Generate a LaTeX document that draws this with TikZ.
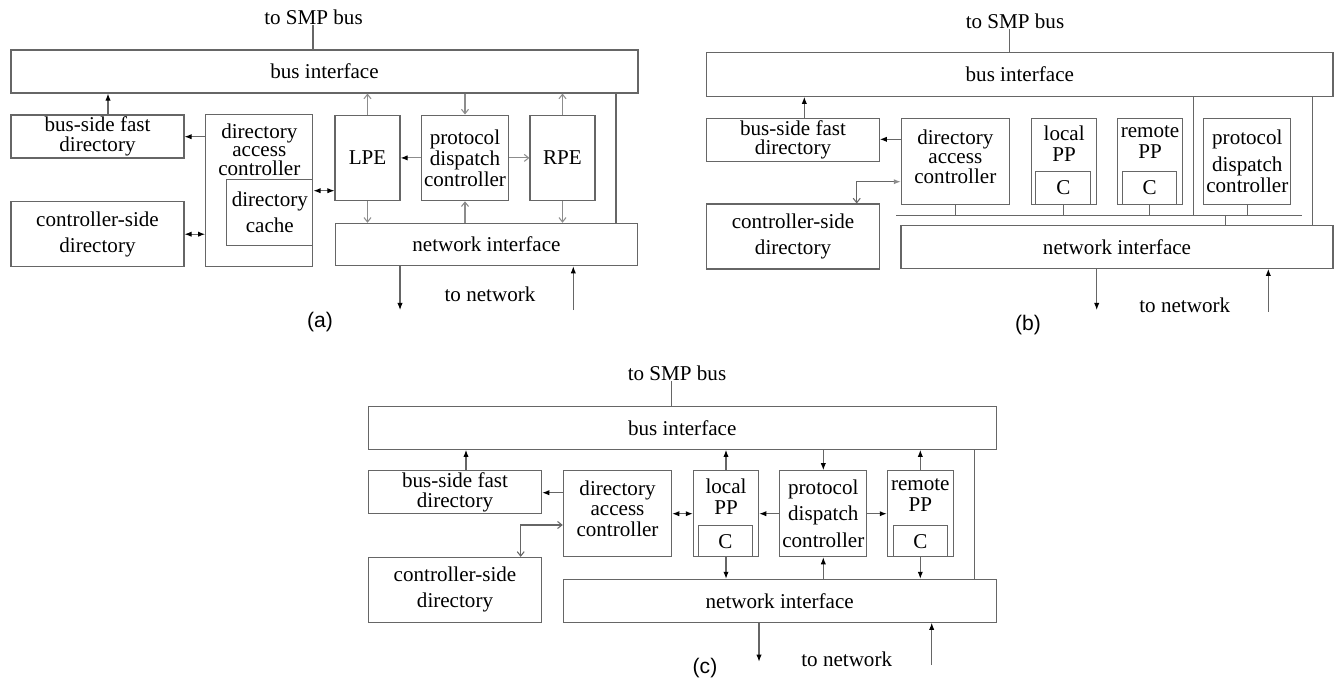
\documentclass[tikz,border=0pt]{standalone}
\usepackage{fontspec}
\setmainfont{Liberation Serif}
\newfontfamily\capfont{Liberation Sans}
\usetikzlibrary{arrows.meta,positioning,calc}
\colorlet{lgray}{black!60}

\begin{document}
\begin{tikzpicture}
[x=0.02cm,y=-0.02cm,
font=\fontsize{12}{12}\selectfont,
%
box/.style 2 args={shape=rectangle,draw=lgray,line width=.6pt,inner sep=0pt,
  align=center,minimum width=#1*0.02cm,minimum height=#2*0.02cm},
txt/.style={inner sep=0pt,align=center},
lab/.style={inner sep=0pt,font=\capfont\fontsize{12}{12}\selectfont},
%
wire/.style={draw=lgray,line width=.6pt},
fedge/.style={wire,-{Latex[length=4pt,width=3pt,black]}},
dfedge/.style={wire,{Latex[length=4pt,width=3pt,black]}-{Latex[length=4pt,width=3pt,black]}},
oedge/.style={wire,draw=black!45,-{Straight Barb[length=2.5pt,width=4pt]}},
gedge/.style={wire,{Latex[length=4pt,width=3pt,black!45]}-{Straight Barb[length=2.5pt,width=4pt]}},
goedge/.style={wire,{Straight Barb[length=2.5pt,width=4pt]}-{Straight Barb[length=2.5pt,width=4pt]}}]
%
\useasboundingbox (0,0) rectangle (1344,694);
%
%% (a): LPE and RPE
\node[txt] (asmp) at (313.5,17) {to SMP bus};
\node[box={627}{43}] (abus) at (324.5,71.5) {bus interface};
\node[box={173}{43}] (abf) at (97.5,136.5) {bus-side fast\\[-1pt]directory};
\node[box={107.3}{151.7}] (adac) at (259.3,190.8) {};
\node[txt,anchor=north] (adact) at (259.3,123.5) {directory\\[-1.5pt]access\\[-1.5pt]controller};
\node[box={86.3}{65.7}] (adc) at (269.8,212.2) {directory\\[3pt]cache};
\node[box={173}{65}] (acs) at (97.5,234.2) {controller-side\\[3pt]directory};
\node[box={65}{85.7}] (alpe) at (367.5,157.9) {LPE};
\node[box={86.6}{85.7}] (apdc) at (465,157.9) {protocol\\dispatch\\controller};
\node[box={65}{85.7}] (arpe) at (562.5,157.9) {RPE};
\node[box={302.7}{42.4}] (ani) at (486.4,244.5) {network interface};
\node[txt] (anet) at (490,294) {to network};
\node[lab] (alab) at (320,322) {(a)};
%%
\draw[wire] (313,0 |- asmp.south) -- (313,0 |- abus.north);
\draw[fedge] (108,0 |- abf.north) -- (108,0 |- abus.south);
\draw[fedge] (adac.west |- 0,136.7) -- (abf.east |- 0,136.7);
\draw[dfedge] (acs.east) -- (acs.east -| adac.west);
\draw[dfedge] (adc.east |- 0,190.7) -- (alpe.west |- 0,190.7);
\draw[oedge] (alpe.north) -- (alpe.north |- abus.south);
\draw[oedge] (apdc.north |- abus.south) -- (apdc.north);
\draw[oedge] (arpe.north) -- (arpe.north |- abus.south);
\draw[oedge,-{Latex[length=4pt,width=3pt,black]}] (apdc.west) -- (alpe.east);
\draw[oedge] (apdc.east) -- (arpe.west);
\draw[oedge] (alpe.south) -- (alpe.south |- ani.north);
\draw[oedge] (apdc.south |- ani.north) -- (apdc.south);
\draw[oedge] (arpe.south) -- (arpe.south |- ani.north);
\draw[wire] (616,0 |- abus.south) -- (616,0 |- ani.north);
\coordinate (aout) at (400,310);
\coordinate (ain) at (573.3,310);
\draw[fedge] (aout |- ani.south) -- (aout);
\draw[fedge] (ain) -- (ain |- ani.south);
%
%% (b): local and remote PP on a shared bus
\node[txt] (bsmp) at (1015,21) {to SMP bus};
\node[box={626.3}{43.6}] (bbus) at (1019.8,74.5) {bus interface};
\node[box={172.6}{42.7}] (bbf) at (793,139.7) {bus-side fast\\[-1pt]directory};
\node[box={108}{85.9}] (bdac) at (955.3,161.3) {};
\node[txt,anchor=north] (bdact) at (955.3,129.5) {directory\\[-1pt]access\\[-1pt]controller};
\node[box={172.6}{65}] (bcs) at (793,236.5) {controller-side\\[3pt]directory};
\node[box={65}{86}] (blpp) at (1064.2,161.3) {};
\node[txt,anchor=north] (blppt) at (1064.2,125.5) {local\\PP};
\node[box={54.7}{32.6}] (blppc) at (1063.3,188) {C};
\node[box={65.4}{86}] (brpp) at (1150,161.3) {};
\node[txt,anchor=north] (brppt) at (1150,125.5) {remote\\PP};
\node[box={54}{32.6}] (brppc) at (1149.7,188) {C};
\node[box={86.7}{86}] (bpdc) at (1247.3,161.3) {protocol\\[3pt]dispatch\\controller};
\node[box={432}{42.6}] (bni) at (1117,247) {network interface};
\node[txt] (bnet) at (1184.7,305) {to network};
\node[lab] (blab) at (1028,325) {(b)};
%%
\draw[wire] (1009.3,0 |- bsmp.south) -- (1009.3,0 |- bbus.north);
\draw[fedge] (804.3,0 |- bbf.north) -- (804.3,0 |- bbus.south);
\draw[fedge] (bdac.west |- 0,139.3) -- (bbf.east |- 0,139.3);
\draw[gedge] (bdac.west |- 0,181.7) -| (856.7,0 |- bcs.north);
\coordinate (blnl) at (896,215.7);
\coordinate (blnr) at (1301.7,215.7);
\draw[wire] (blnl) -- (blnr);
\foreach \n in {bdac,blppc,brppc,bpdc}
  \draw[wire] (\n.south) -- (\n.south |- blnl);
\draw[wire] (1193.3,0 |- bbus.south) -- (1193.3,0 |- blnl);
\draw[wire] (1225.7,0 |- blnl) -- (1225.7,0 |- bni.north);
\draw[wire] (1312.3,0 |- bbus.south) -- (1312.3,0 |- bni.north);
\coordinate (bout) at (1096.7,310);
\coordinate (bin) at (1268.3,311.7);
\draw[fedge] (bout |- bni.south) -- (bout);
\draw[fedge] (bin) -- (bin |- bni.south);
%
%% (c): local and remote PP with direct links
\node[txt] (csmp) at (677,373) {to SMP bus};
\node[box={627.7}{43.3}] (cbus) at (682.2,427.7) {bus interface};
\node[box={173.4}{43.3}] (cbf) at (455,492.3) {bus-side fast\\[-1pt]directory};
\node[box={108.4}{86}] (cdac) at (617.5,513.7) {};
\node[txt,anchor=north] (cdact) at (617.5,481) {directory\\[-1pt]access\\[0pt]controller};
\node[box={173.4}{64.7}] (ccs) at (455,589.7) {controller-side\\[3pt]directory};
\node[box={65.4}{86}] (clpp) at (726,513.7) {};
\node[txt,anchor=north] (clppt) at (726,478.2) {local\\PP};
\node[box={54.4}{31}] (clppc) at (725.5,541.2) {C};
\node[box={86.7}{86}] (cpdc) at (823.3,513.7) {protocol\\[3pt]dispatch\\[3pt]controller};
\node[box={66}{86}] (crpp) at (920.3,513.7) {};
\node[txt,anchor=north] (crppt) at (920.3,478.2) {remote\\PP};
\node[box={54}{31}] (crppc) at (920.3,541.2) {C};
\node[box={432.7}{43}] (cni) at (779.7,600.8) {network interface};
\node[txt] (cnet) at (846.7,659) {to network};
\node[lab] (clab) at (705,668) {(c)};
%%
\draw[wire] (671.7,0 |- csmp.south) -- (671.7,0 |- cbus.north);
\draw[fedge] (466,0 |- cbf.north) -- (466,0 |- cbus.south);
\draw[fedge] (cdac.west |- 0,492.7) -- (cbf.east |- 0,492.7);
\draw[goedge] (cdac.west |- 0,525) -| (520.7,0 |- ccs.north);
\draw[dfedge] (cdac.east) -- (clpp.west);
\draw[fedge] (cpdc.west) -- (clpp.east);
\draw[fedge] (cpdc.east) -- (crpp.west);
\draw[fedge] (clpp.north) -- (clpp.north |- cbus.south);
\draw[fedge] (cpdc.north |- cbus.south) -- (cpdc.north);
\draw[fedge] (crpp.north) -- (crpp.north |- cbus.south);
\draw[fedge] (clpp.south) -- (clpp.south |- cni.north);
\draw[fedge] (cpdc.south |- cni.north) -- (cpdc.south);
\draw[fedge] (crpp.south) -- (crpp.south |- cni.north);
\draw[wire] (974.3,0 |- cbus.south) -- (974.3,0 |- cni.north);
\coordinate (cout) at (759,661.7);
\coordinate (cin) at (931.7,665);
\draw[fedge] (cout |- cni.south) -- (cout);
\draw[fedge] (cin) -- (cin |- cni.south);
\end{tikzpicture}
\end{document}
